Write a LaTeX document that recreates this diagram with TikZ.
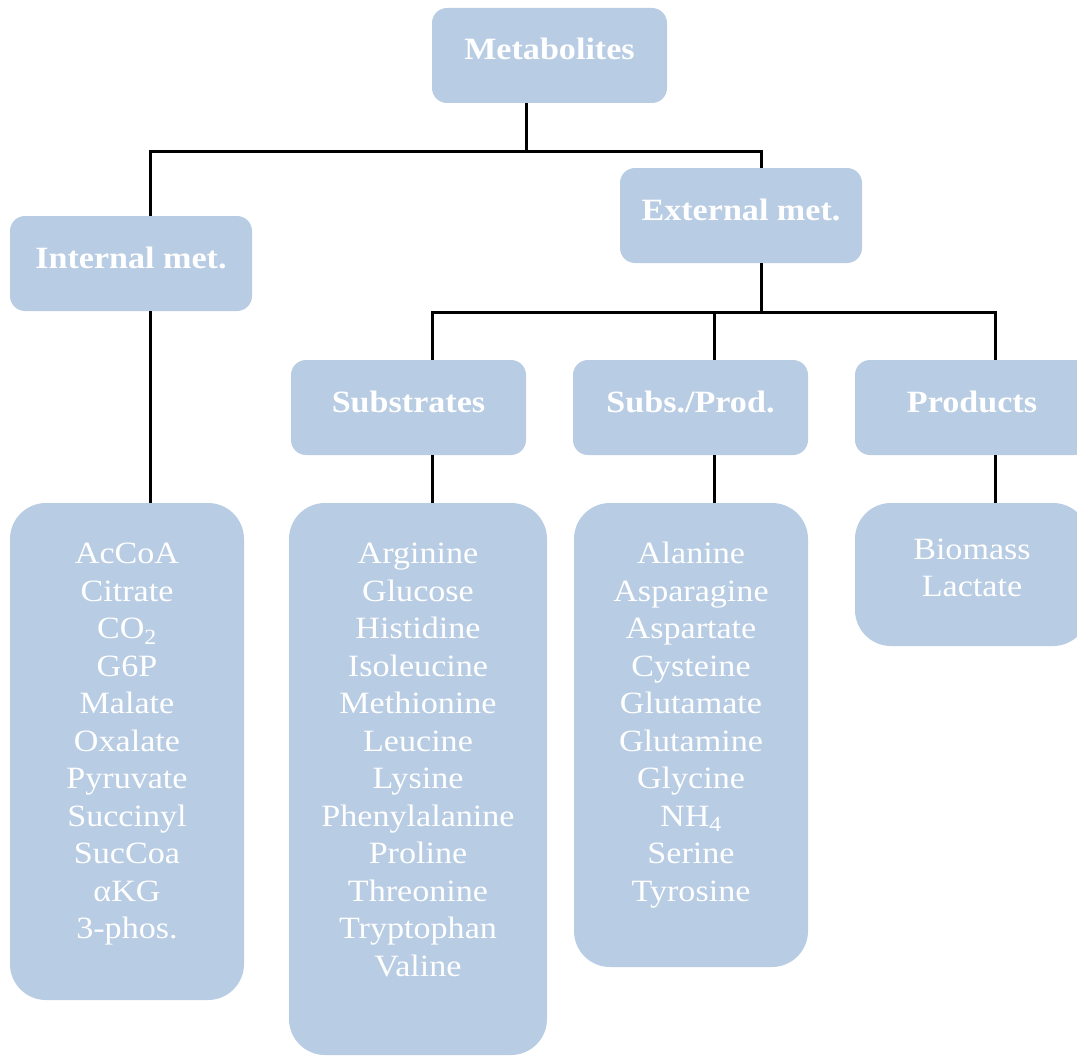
\documentclass[tikz,border=0pt]{standalone}
\usepackage{fontspec}
\setmainfont{Liberation Serif}[FakeStretch=1.1]
\definecolor{boxblue}{HTML}{B8CCE4}
\begin{document}
\begin{tikzpicture}[x=1pt,y=-1pt,
  titlebox/.style={fill=boxblue, draw=none, rounded corners=15pt, inner sep=0pt,
    minimum height=95pt, text=white, font=\bfseries\fontsize{31}{37}\selectfont,
    text height=22pt, text depth=13pt},
  listbox/.style={fill=boxblue, draw=none, rounded corners=36pt, inner sep=0pt},
  listtext/.style={anchor=north, inner sep=0pt, align=center, text=white,
    font=\fontsize{31}{37.5}\selectfont},
  link/.style={line width=3pt, black}]
\clip (0,0) rectangle (1077,1057);

% category boxes
\node[titlebox, minimum width=235pt] (met) at (549.5,55.5) {Metabolites};
\node[titlebox, minimum width=242pt] (int) at (131,263.5) {Internal met.};
\node[titlebox, minimum width=242pt] (ext) at (741,215.5) {External met.};
\node[titlebox, minimum width=235pt] (sub) at (408.5,407.5) {Substrates};
\node[titlebox, minimum width=235pt] (sp) at (690.5,407.5) {Subs./Prod.};
\node[titlebox, minimum width=234pt] (prod) at (972,407.5) {Products};

% list boxes
\node[listbox, minimum width=234pt, minimum height=497pt] (intlist) at (127,751.5) {};
\node[listbox, minimum width=258pt, minimum height=552pt] (sublist) at (418,779) {};
\node[listbox, minimum width=234pt, minimum height=464pt] (splist) at (691,735) {};
\node[listbox, minimum width=234pt, minimum height=143pt] (prodlist) at (972,574.5) {};

\node[listtext] (inttext) at ([yshift=-40pt]intlist.north) {AcCoA\\Citrate\\CO\textsubscript{2}\\G6P\\Malate\\Oxalate\\Pyruvate\\Succinyl\\SucCoa\\αKG\\3-phos.};
\node[listtext] (subtext) at ([yshift=-40pt]sublist.north) {Arginine\\Glucose\\Histidine\\Isoleucine\\Methionine\\Leucine\\Lysine\\Phenylalanine\\Proline\\Threonine\\Tryptophan\\Valine};
\node[listtext] (sptext) at ([yshift=-39pt]splist.north) {Alanine\\Asparagine\\Aspartate\\Cysteine\\Glutamate\\Glutamine\\Glycine\\NH\textsubscript{4}\\Serine\\Tyrosine};
\node[listtext, font=\fontsize{31}{37}\selectfont] (prodtext) at ([yshift=-36pt]prodlist.north) {Biomass\\Lactate};

% tree connectors
\coordinate (busL) at (150,151);
\coordinate (busM) at (526,151);
\coordinate (busR) at (761,151);
\draw[link] (busM |- met.south) -- (busM);
\draw[link] (busL |- int.north) -- (busL) -- (busR) -- (busR |- ext.north);
\draw[link] (busL |- int.south) -- (busL |- intlist.north);

\coordinate (bus2L) at (432,312);
\coordinate (bus2M) at (714,312);
\coordinate (bus2R) at (995,312);
\coordinate (bus2E) at (761,312);
\draw[link] (bus2E |- ext.south) -- (bus2E);
\draw[link] (bus2L |- sub.north) -- (bus2L) -- (bus2R) -- (bus2R |- prod.north);
\draw[link] (bus2M) -- (bus2M |- sp.north);
\draw[link] (bus2L |- sub.south) -- (bus2L |- sublist.north);
\draw[link] (bus2M |- sp.south) -- (bus2M |- splist.north);
\draw[link] (bus2R |- prod.south) -- (bus2R |- prodlist.north);
\end{tikzpicture}
\end{document}
